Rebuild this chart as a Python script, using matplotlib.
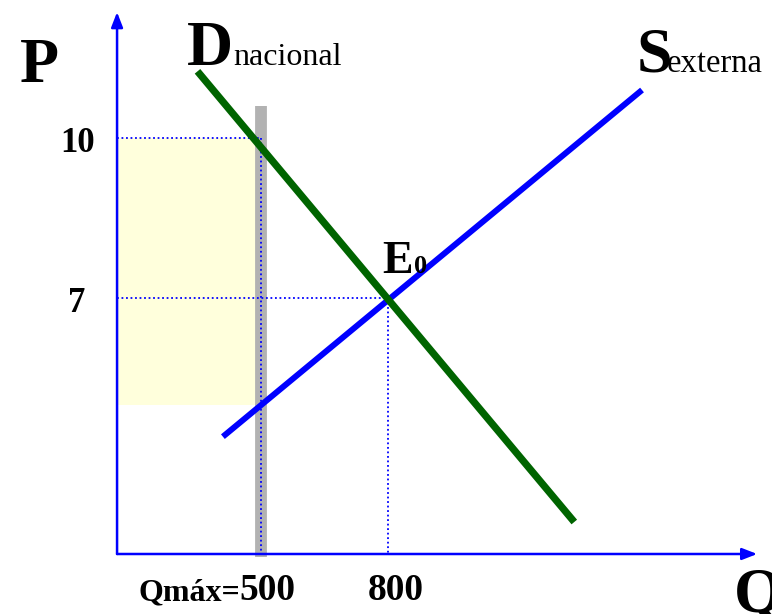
import matplotlib
matplotlib.use("Agg")
import matplotlib.pyplot as plt

# ---- data (schematic market) ----
demand_q = [350, 1240]
demand_p = [11.25, 2.8]
supply_q = [410, 1400]
supply_p = [4.4, 10.9]
q_max = 500
q_eq = 800
p_eq = 7
p_high = 10
p_low = 5
bar_p = [2.15, 10.6]
axis_q0 = 160
axis_p0 = 2.2
axis_q_end = 1672
axis_p_end = 12.36

W, H = 772, 614
fig = plt.figure(figsize=(W / 100, H / 100), dpi=100)
ax = fig.add_axes([0, 0, 1, 1])
ax.set_xlim(-116.5, 1707)
ax.set_ylim(1.075, 12.5875)
ax.axis("off")

serif = "Liberation Serif"
blue = "#0000FF"
green = "#006400"

# yellow rectangle
ax.fill_between([axis_q0, q_max - 7], p_low, p_high, color="#FFFFDC", zorder=1, lw=0)

# gray bar (quota)
ax.plot([q_max, q_max], bar_p, color="#B2B2B2", lw=8.5, solid_capstyle="butt", zorder=2)

# dotted guides
dot = dict(color=blue, lw=1.3, ls=(0, (1, 1.5)), zorder=3)
ax.plot([axis_q0, q_max], [p_high, p_high], **dot)
ax.plot([q_max, q_max], [p_high, axis_p0], **dot)
ax.plot([axis_q0, q_eq], [p_eq, p_eq], **dot)
ax.plot([q_eq, q_eq], [p_eq, axis_p0], **dot)

# curves
ax.plot(supply_q, supply_p, color=blue, lw=4.3, solid_capstyle="butt", zorder=4)
ax.plot(demand_q, demand_p, color=green, lw=5.2, solid_capstyle="butt", zorder=5)

# axes with arrows
ax.annotate("", xy=(axis_q0, axis_p_end), xytext=(axis_q0, axis_p0),
            arrowprops=dict(arrowstyle="-|>,head_length=0.9,head_width=0.35",
                            color=blue, lw=1.8, shrinkA=0, shrinkB=0), zorder=6)
ax.annotate("", xy=(axis_q_end, axis_p0), xytext=(axis_q0, axis_p0),
            arrowprops=dict(arrowstyle="-|>,head_length=0.9,head_width=0.35",
                            color=blue, lw=1.8, shrinkA=0, shrinkB=0), zorder=6)

def t(x, y, s, size, bold=True, ha="left"):
    fig.text(x / W, 1 - y / H, s, fontsize=size, family=serif,
             fontweight="bold" if bold else "normal", ha=ha, va="baseline")

t(20, 82, "P", 46)
t(734, 612, "Q", 46)
t(187, 65, "D", 46)
t(233, 65, "nacional", 23, bold=False)
t(637, 72, "S", 46)
t(667, 72, "externa", 23.5, bold=False)
t(382, 273, "E", 33)
t(414, 273, "0", 19)
t(95, 152, "10", 25, ha="right")
t(85, 312, "7", 25, ha="right")
t(240, 600, "Qmáx=", 23, ha="right")
t(239, 600, "500", 27)
t(396, 600, "800", 27, ha="center")

fig.savefig("out.png", dpi=100)
